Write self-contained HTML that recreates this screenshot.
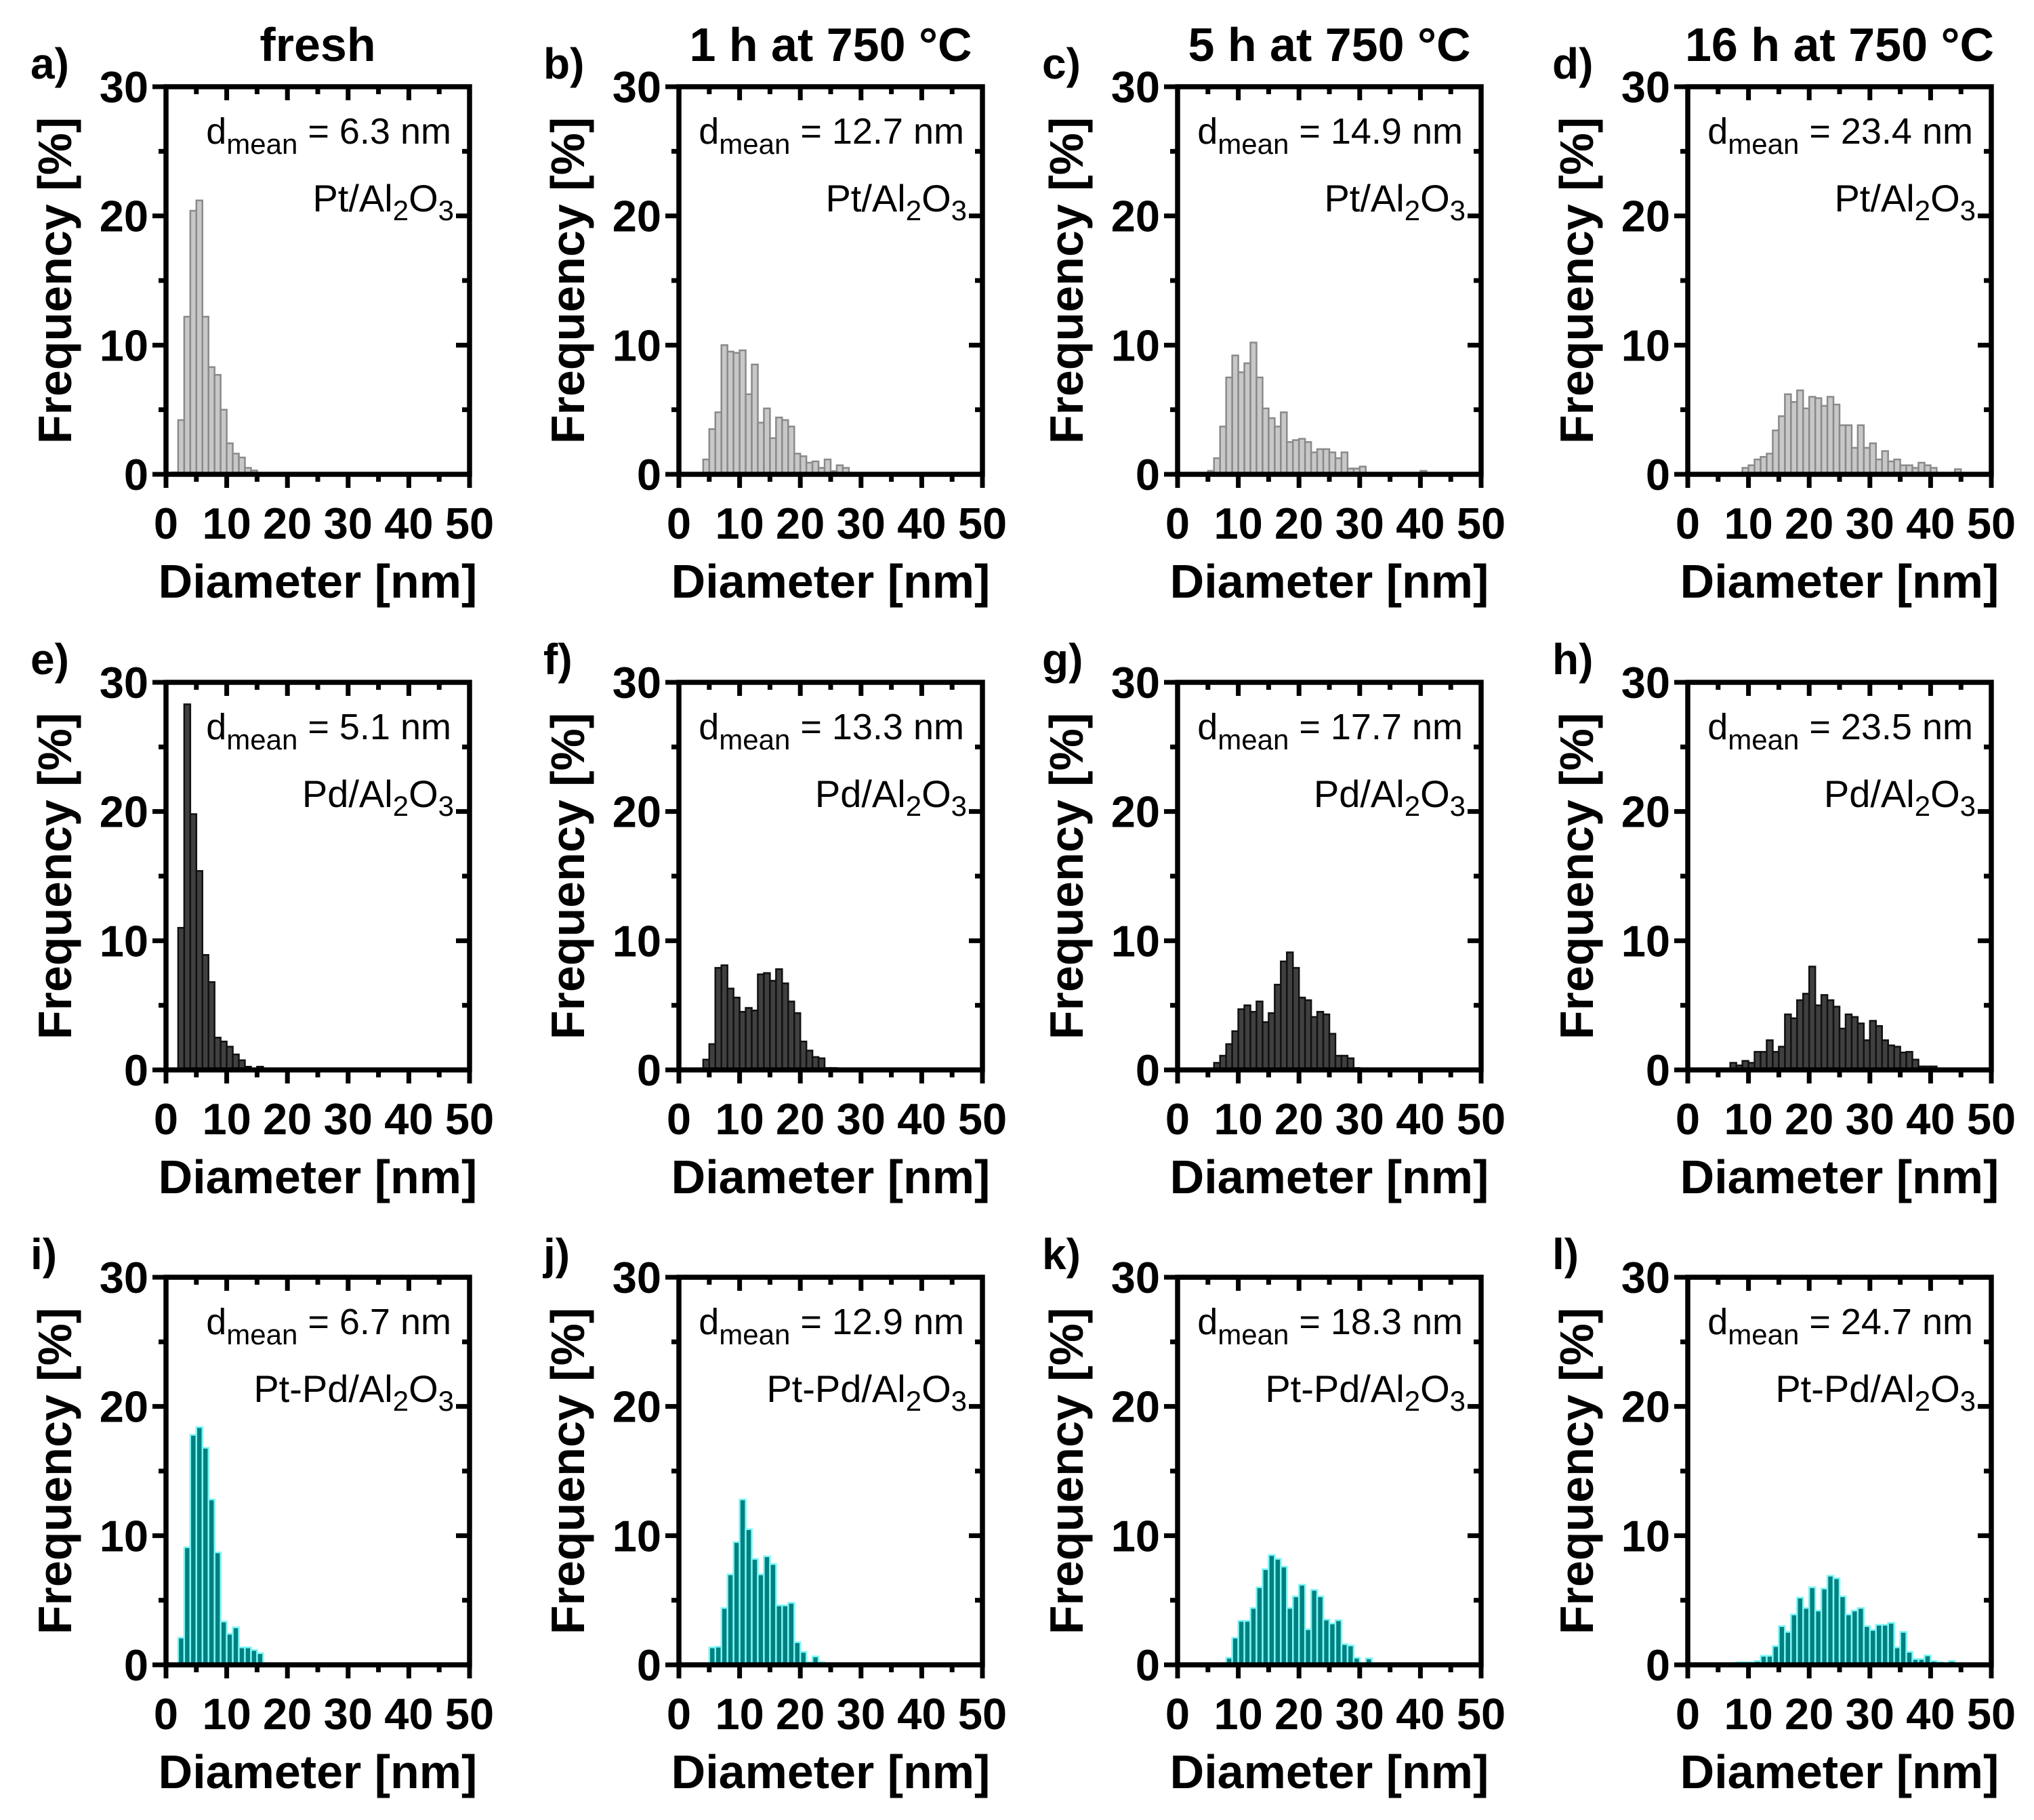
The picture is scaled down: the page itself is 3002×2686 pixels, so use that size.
<!DOCTYPE html>
<html><head><meta charset="utf-8"><style>
html,body{margin:0;padding:0;background:#fff;}
svg{display:block;font-family:"Liberation Sans",Arial,sans-serif;}
</style></head>
<body>
<svg id="fig" width="3002" height="2686" viewBox="0 0 3002 2686" xmlns="http://www.w3.org/2000/svg"></svg>
<script>
// ---- data (bin width 1 nm; each array starts at its bin start) ----
const binStartA = 1;
const valuesA = [0.15,4.2,12.2,20.4,21.2,12.2,8.3,7.7,5.0,2.4,1.6,1.3,0.5,0.3,0,0,0.1,0,0,0.1];
const binStartB = 4;
const valuesB = [1.15,3.5,4.8,10.0,9.5,9.4,9.6,6.2,8.5,4.0,5.1,2.8,4.4,4.2,3.7,1.6,1.4,0.9,1.0,0.5,1.15,0.25,0.7,0.5,0.1,0.1,0.1];
const binStartC = 5;
const valuesC = [0.27,1.25,3.7,7.5,9.2,7.9,8.6,10.2,7.5,5.1,4.35,3.7,4.8,2.5,2.65,2.75,2.5,1.7,1.95,1.95,1.7,1.25,1.7,0.45,0.45,0.6,0.1,0.1,0.1,0.1,0.1,0,0,0,0,0.27];
const binStartD = 9;
const valuesD = [0.5,0.7,1.15,1.35,1.6,3.4,4.5,6.2,5.6,6.5,5.1,6.0,5.9,5.3,6.0,5.4,3.8,3.8,2.05,3.8,2.05,2.4,1.15,1.8,1.0,1.15,0.7,0.7,0.5,0.9,0.7,0.5,0,0.08,0.08,0.4,0.08,0.08];
const binStartE = 2;
const valuesE = [11.0,28.3,19.8,15.4,8.9,6.8,2.5,2.2,1.8,1.2,0.75,0.25,0.1,0.25];
const binStartF = 4;
const valuesF = [0.8,2.0,7.9,8.1,6.3,5.6,4.5,4.8,4.6,7.4,7.5,6.9,7.8,6.7,5.3,4.4,2.2,1.5,1.0,0.9,0.15,0.15];
const binStartG = 6;
const valuesG = [0.55,1.1,2.0,3.0,4.7,5.0,4.5,5.3,3.7,4.4,6.6,8.4,9.1,7.9,5.6,5.4,4.1,4.5,4.3,2.8,1.1,1.1,0.9,0.15];
const binStartH = 7;
const valuesH = [0.55,0.35,0.7,0.55,1.4,1.4,2.3,1.4,1.8,4.3,4.0,5.4,5.9,8.0,5.0,5.8,5.4,4.9,3.2,4.3,4.1,3.6,2.3,3.8,3.4,2.3,1.9,1.8,1.35,1.4,0.8,0.27,0.27,0.27,0,0,0,0.1];
const binStartI = 2;
const valuesI = [2.1,9.1,17.8,18.4,16.8,12.8,8.7,3.35,2.4,2.9,1.35,1.35,1.15,0.9];
const binStartJ = 5;
const valuesJ = [1.35,1.4,4.4,7.0,9.5,12.8,10.5,8.2,7.0,8.4,7.8,4.6,4.6,4.8,1.75,1.0,0.2,0.65,0.2,0,0.1];
const binStartK = 6;
const valuesK = [0.1,0.1,0.55,2.1,3.4,3.4,4.4,6.0,7.4,8.5,8.2,7.6,4.4,5.3,6.2,2.75,5.8,5.3,3.5,3.2,3.45,1.6,1.5,0.55,0.1,0.5,0.1];
const binStartL = 6;
const valuesL = [0.05,0.05,0.2,0.2,0.2,0.3,0.7,0.7,1.45,3.0,2.55,3.9,5.2,4.4,6.0,4.2,5.9,6.9,6.7,5.3,3.9,4.2,4.4,3.0,2.7,3.1,3.1,3.25,1.35,2.55,1.0,0.45,0.45,0.73,0.3,0.2,0,0.3,0.05];

const panelLetters = ["a)","b)","c)","d)","e)","f)","g)","h)","i)","j)","k)","l)"];
const dmeanValues = ["6.3","12.7","14.9","23.4","5.1","13.3","17.7","23.5","6.7","12.9","18.3","24.7"];
const materialPrefixes = ["Pt","Pd","Pt-Pd"];
const columnTitles = ["fresh","1 h at 750 °C","5 h at 750 °C","16 h at 750 °C"];
const xTickLabels = [0,10,20,30,40,50];
const yTickLabels = [0,10,20,30];
const binStarts = [binStartA,binStartB,binStartC,binStartD,binStartE,binStartF,binStartG,binStartH,binStartI,binStartJ,binStartK,binStartL];
const seriesValues = [valuesA,valuesB,valuesC,valuesD,valuesE,valuesF,valuesG,valuesH,valuesI,valuesJ,valuesK,valuesL];

// ---- layout ----
const colLeft = [245, 1002, 1738, 2491];
const rowBottom = [700, 1579, 2457];
const PW = 448, PH = 572;
const XMAX = 50, YMAX = 30;
const rowStyles = [
  {fill:"#c8c8c8", stroke:"#8a8a8a"},
  {fill:"#404040", stroke:"#111111"},
  {fill:"#008080", stroke:"#7ff5f5"}
];
const NS = "http://www.w3.org/2000/svg";
const svg = document.getElementById("fig");

function mk(tag, attrs, parent){
  const e = document.createElementNS(NS, tag);
  for (const k in attrs) e.setAttribute(k, attrs[k]);
  (parent||svg).appendChild(e);
  return e;
}

for (let p = 0; p < 12; p++){
  const col = p % 4, row = Math.floor(p / 4);
  const L = colLeft[col], B = rowBottom[row], T = B - PH, R = L + PW;
  const xs = v => L + v / XMAX * PW;
  const ys = v => B - v / YMAX * PH;
  const g = mk("g", {});
  
  

  const st = rowStyles[row];
  const vals = seriesValues[p], start = binStarts[p];
  for (let i = 0; i < vals.length; i++){
    if (vals[i] <= 0) continue;
    const x0 = xs(start + i), x1 = xs(start + i + 1);
    const r = mk("rect", {x:x0, y:ys(vals[i]), width:x1-x0, height:B-ys(vals[i]), fill:st.fill, stroke:st.stroke, "stroke-width":2.5}, g);
    
    
  }

  const tk = mk("g", {stroke:"#000", "stroke-width":7, fill:"none"}, g);
  
  
  for (let v = 0; v <= XMAX; v += 5){
    const major = v % 10 === 0, len = major ? 20 : 11, x = xs(v);
    mk("line", {x1:x, y1:B, x2:x, y2:B+len}, tk);
    mk("line", {x1:x, y1:T, x2:x, y2:T+len}, tk);
  }
  for (let v = 0; v <= YMAX; v += 5){
    const major = v % 10 === 0, len = major ? 20 : 11, y = ys(v);
    mk("line", {x1:L-len, y1:y, x2:L, y2:y}, tk);
    mk("line", {x1:R-len, y1:y, x2:R, y2:y}, tk);
  }
  const fr = mk("rect", {x:L, y:T, width:PW, height:PH, fill:"none", stroke:"#000", "stroke-width":7.5}, g);
  
  

  for (const v of xTickLabels){
    const t = mk("text", {x:xs(v), y:B+95, "text-anchor":"middle", "font-size":65, "font-weight":"bold"}, g);
    t.textContent = v;
    
    
  }
  for (const v of yTickLabels){
    const t = mk("text", {x:L-26, y:ys(v)+23, "text-anchor":"end", "font-size":65, "font-weight":"bold"}, g);
    t.textContent = v;
    
    
  }
  const xt = mk("text", {x:L+PW/2, y:B+182, "text-anchor":"middle", "font-size":70, "font-weight":"bold"}, g);
  xt.textContent = "Diameter [nm]";
  
  
  const cy = T + PH/2, cx = L - 140;
  const yt = mk("text", {x:cx, y:cy, "text-anchor":"middle", "font-size":70, "font-weight":"bold", transform:`rotate(-90 ${cx} ${cy})`}, g);
  yt.textContent = "Frequency [%]";
  
  

  const lt = mk("text", {x:L-200, y:T-12, "font-size":64, "font-weight":"bold"}, g);
  lt.textContent = panelLetters[p];
  
  

  const dm = mk("text", {x:R-27, y:T+84, "text-anchor":"end", "font-size":54}, g);
  
  
  dm.appendChild(document.createTextNode("d"));
  const s1 = mk("tspan", {"font-size":42, dy:15}, dm); s1.textContent = "mean";
  const s2 = mk("tspan", {dy:-15}, dm); s2.textContent = " = " + dmeanValues[p] + " nm";

  const ml = mk("text", {x:R-23, y:T+184, "text-anchor":"end", "font-size":56}, g);
  
  
  ml.appendChild(document.createTextNode(materialPrefixes[row] + "/Al"));
  const m1 = mk("tspan", {"font-size":42, dy:13}, ml); m1.textContent = "2";
  const m2 = mk("tspan", {dy:-13}, ml); m2.textContent = "O";
  const m3 = mk("tspan", {"font-size":42, dy:13}, ml); m3.textContent = "3";

  if (row === 0){
    const ct = mk("text", {x:L+PW/2, y:T-38, "text-anchor":"middle", "font-size":70, "font-weight":"bold"}, g);
    ct.textContent = columnTitles[col];
    
    
  }
}
</script>
</body></html>
